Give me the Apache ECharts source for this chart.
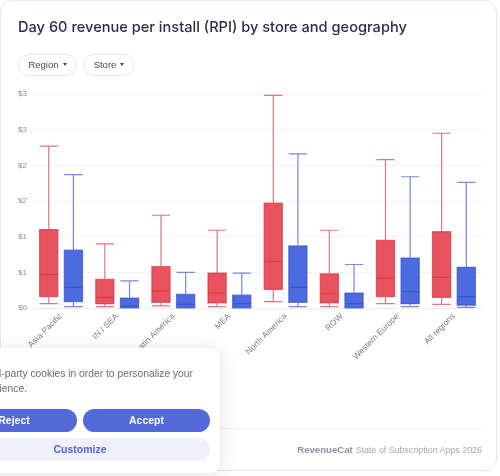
<!DOCTYPE html>
<html>
<head>
<meta charset="utf-8">
<script src="https://cdn.jsdelivr.net/npm/echarts@6/dist/echarts.min.js"></script>
<style>
    html, body { margin: 0; padding: 0; background: #fff; overflow: hidden; }
    body { width: 500px; height: 476px; position: relative; font-family: "Liberation Sans", Arial, sans-serif; }
    #card { position: absolute; left: 0; top: 0; width: 495px; height: 469px; border: 1.5px solid #e3e6f8; border-radius: 12px; }
    #chart-box { position: absolute; left: 0; top: 0; width: 500px; height: 476px; }
    .pill { position: absolute; top: 54px; height: 20px; line-height: 20px; border: 1px solid #e6e7ee; border-radius: 11px; font-size: 9.5px; color: #43455a; text-align: center; }
    .pill i { display: inline-block; width: 0; height: 0; border-left: 2.5px solid transparent; border-right: 2.5px solid transparent; border-top: 3px solid #43455a; margin-left: 4px; vertical-align: 2px; }
    #foot-line { position: absolute; left: 18px; top: 428px; width: 464px; height: 1px; background: #eeeef4; }
    #foot { position: absolute; right: 18px; top: 444px; font-size: 8.9px; color: #a4a6b8; white-space: nowrap; }
    #foot b { color: #8e90a3; font-weight: 700; font-size: 9.6px; margin-right: 3px; }
    #cookie { position: absolute; left: -100px; top: 348px; width: 320px; height: 125px; background: #fff; border-radius: 10px; box-shadow: 0 2px 18px rgba(40, 40, 80, 0.14); z-index: 5; }
    .ck-line { position: absolute; white-space: nowrap; font-size: 10.3px; color: #676a7a; text-align: right; }
    .btn { position: absolute; height: 23px; line-height: 23px; border-radius: 12px; text-align: center; font-size: 10.5px; font-weight: 700; }
    .btn.solid { background: #5469d9; color: #fff; }
    .btn.soft { background: #eff0fc; color: #5064d6; }
</style>
</head>
<body>
<div id="card"></div>
<div id="chart-box"></div>
<div class="pill" style="left:18px;width:57px;">Region<i></i></div>
<div class="pill" style="left:83px;width:50px;">Store<i></i></div>
<div id="foot-line"></div>
<div id="foot"><b>RevenueCat</b>State of Subscription Apps 2026</div>
<div id="cookie">
    <div class="ck-line" style="right:27px;top:20px;">We use third-party cookies in order to personalize your</div>
    <div class="ck-line" style="right:193px;top:35px;">experience.</div>
    <div class="btn solid" style="left:51px;top:61px;width:126px;">Reject</div>
    <div class="btn solid" style="left:183px;top:61px;width:127px;">Accept</div>
    <div class="btn soft" style="left:50px;top:90px;width:260px;">Customize</div>
</div>
<script>
// 区域
var regions = ['Asia-Pacific', 'IN / SEA', 'Latin America', 'MEA', 'North America', 'ROW', 'Western Europe', 'All regions'];

// 每项: [min, Q1, median, Q3, max]
var appStoreBox = [
    [0.06, 0.16, 0.47, 1.10, 2.27],
    [0.02, 0.06, 0.15, 0.40, 0.90],
    [0.03, 0.08, 0.24, 0.58, 1.30],
    [0.02, 0.07, 0.21, 0.49, 1.09],
    [0.09, 0.26, 0.65, 1.47, 2.98],
    [0.02, 0.07, 0.20, 0.48, 1.09],
    [0.06, 0.16, 0.42, 0.95, 2.08],
    [0.05, 0.15, 0.43, 1.07, 2.45]
];
var playStoreBox = [
    [0.02, 0.09, 0.29, 0.81, 1.87],
    [0.00, 0.005, 0.03, 0.14, 0.38],
    [0.00, 0.005, 0.05, 0.19, 0.50],
    [0.00, 0.005, 0.06, 0.18, 0.49],
    [0.02, 0.08, 0.29, 0.87, 2.16],
    [0.00, 0.005, 0.06, 0.21, 0.61],
    [0.02, 0.06, 0.23, 0.70, 1.84],
    [0.01, 0.04, 0.16, 0.57, 1.76]
];

var boxChart = echarts.init(document.getElementById('chart-box'));
var boxOption = {
    animation: false,
    title: {
        text: 'Day 60 revenue per install (RPI) by store and geography',
        left: 18,
        top: 20,
        padding: 0,
        textStyle: {
            color: '#2c2e4d',
            fontSize: 14.6,
            fontWeight: 500,
            fontFamily: 'Inter'
        }
    },
    grid: {
        left: 33,
        right: 18,
        top: 94,
        bottom: 168
    },
    xAxis: {
        type: 'category',
        data: regions,
        axisLine: { lineStyle: { color: '#ececf1' } },
        axisTick: { show: false },
        axisLabel: {
            rotate: 45,
            interval: 0,
            margin: 7,
            color: '#7c7e8e',
            fontSize: 8.5,
            fontFamily: 'Liberation Sans'
        }
    },
    yAxis: {
        type: 'value',
        min: 0,
        max: 3,
        interval: 0.5,
        axisLine: { show: false },
        axisTick: { show: false },
        splitLine: { lineStyle: { color: '#f2f2f5' } },
        axisLabel: {
            color: '#8a8c9b',
            fontSize: 8,
            margin: 6,
            fontFamily: 'Liberation Sans',
            formatter: function (v) { return '$' + Math.round(v); }
        }
    },
    series: [{
        name: 'App Store',
        type: 'boxplot',
        data: appStoreBox,
        itemStyle: {
            color: '#e8535f',
            borderColor: 'rgba(210, 44, 60, 0.65)',
            borderWidth: 1.2
        }
    }, {
        name: 'Google Play',
        type: 'boxplot',
        data: playStoreBox,
        itemStyle: {
            color: '#4d6be0',
            borderColor: 'rgba(48, 72, 200, 0.65)',
            borderWidth: 1.2
        }
    }]
};
boxChart.setOption(boxOption);
</script>
</body>
</html>
